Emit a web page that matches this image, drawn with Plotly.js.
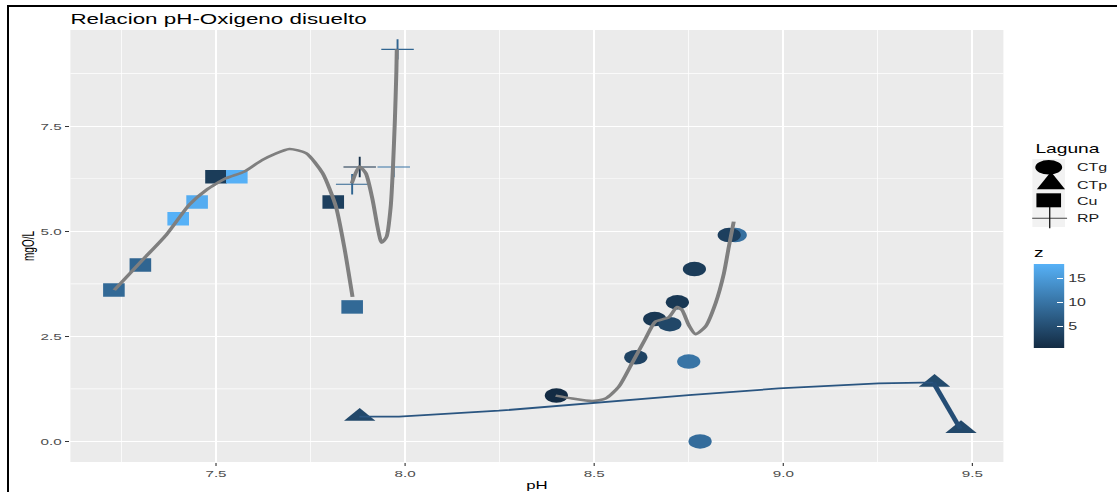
<!DOCTYPE html>
<html>
<head>
<meta charset="utf-8">
<script src="https://cdn.plot.ly/plotly-3.0.1.min.js"></script>
<style>
  html, body { margin: 0; padding: 0; background: #fff; overflow: hidden; }
  #wrap { position: relative; width: 1117px; height: 492px; overflow: hidden; }
  /* the chart is laid out narrow and widened, giving the broad lettering and oval marks */
  #chart { position: absolute; left: 0; top: 0; width: 698px; height: 492px;
           transform-origin: 0 0; transform: scaleX(1.600287); }
  #frame { position: absolute; left: 6.5px; top: 4.5px; right: -10px; bottom: -10px;
           border-left: 2.6px solid #000; border-top: 2.2px solid #000; pointer-events: none; }
</style>
</head>
<body>
<div id="wrap"><div id="chart"></div><div id="frame"></div></div>
<script>
// ---- measured points per laguna (pH, dissolved oxygen mg/L, z) ----
const cuPH  = [7.23, 7.30, 7.40, 7.45, 7.50, 7.555, 7.81, 7.86];
const cuO2  = [3.6, 4.2, 5.3, 5.7, 6.3, 6.3, 5.7, 3.2];
const cuZ   = [8.5, 8, 18.1, 17.5, 2.5, 18, 3, 8.5];

const ctgPH = [8.40, 8.61, 8.66, 8.70, 8.72, 8.765, 8.75, 8.78, 8.873, 8.857];
const ctgO2 = [1.09, 2.0, 2.91, 2.79, 3.31, 4.10, 1.90, 0.0, 4.91, 4.91];
const ctgZ  = [0.3, 3.5, 2, 4, 2, 2.5, 10, 9, 9.5, 3];

const ctpPH = [7.88, 9.40, 9.47];
const ctpO2 = [0.59, 1.40, 0.30];
const ctpZ  = [4.2, 4.5, 4.2];

const rpPH  = [7.86, 7.88, 7.97, 7.98];
const rpO2  = [6.12, 6.53, 6.53, 9.33];
const rpZ   = [8, 1, 10, 8];

// ---- smoothed trend per laguna ----
const cuFitPH  = [7.231, 7.306, 7.368, 7.429, 7.474, 7.526, 7.575, 7.623, 7.694, 7.738, 7.782, 7.817, 7.839, 7.861];
const cuFitO2  = [3.60, 4.32, 4.91, 5.63, 5.98, 6.26, 6.42, 6.70, 6.96, 6.86, 6.38, 5.59, 4.63, 3.44];
const rpFitPH  = [7.859, 7.879, 7.896, 7.914, 7.927, 7.938, 7.951, 7.962, 7.968, 7.973, 7.977, 7.978];
const rpFitO2  = [6.14, 6.54, 6.38, 5.75, 5.11, 4.73, 4.87, 5.59, 6.54, 7.65, 8.84, 9.33];
const ctgFitPH = [8.398, 8.442, 8.495, 8.530, 8.565, 8.600, 8.636, 8.662, 8.697, 8.719, 8.732, 8.750, 8.768, 8.794, 8.821, 8.843, 8.856, 8.869];
const ctgFitO2 = [1.09, 1.02, 0.96, 1.02, 1.30, 1.86, 2.45, 2.85, 2.95, 3.20, 3.13, 2.77, 2.55, 2.73, 3.29, 4.00, 4.63, 5.23];
const ctpFitPH = [7.879, 7.984, 8.248, 8.504, 8.750, 8.988, 9.252, 9.366, 9.397, 9.468];
const ctpFitO2 = [0.59, 0.59, 0.73, 0.92, 1.10, 1.26, 1.38, 1.40, 1.40, 0.30];

// ---- labels ----
const lagunas = ['CTg', 'CTp', 'Cu', 'RP'];
const xTicks = [7.5, 8.0, 8.5, 9.0, 9.5];
const yTicks = [0, 2.5, 5, 7.5];
const zTicks = [5, 10, 15];

// ---- geometry of the final (widened) picture ----
const W = 1117, H = 492, W0 = 698, S = W / W0;
const PL = 71, PR = 1003, PT = 30, PB = 462;
const fx = px => (px - PL) / (PR - PL);
const fy = py => (PB - py) / (PB - PT);

const allZ = cuZ.concat(ctgZ, ctpZ, rpZ);
const FONT = 'Liberation Sans, Arial, Helvetica, sans-serif';
const GREY_FIT = '#7f7f7f';

function pts(x, y, z, symbol, size, extra) {
  const m = Object.assign({ symbol: symbol, size: size, color: z, coloraxis: 'coloraxis', line: { width: 0 } }, extra || {});
  return { type: 'scatter', mode: 'markers', x: x, y: y, marker: m, hoverinfo: 'skip', showlegend: false };
}
function fit(x, y, color, width, shape) {
  return { type: 'scatter', mode: 'lines', x: x, y: y, hoverinfo: 'skip', showlegend: false,
           line: { color: color, width: width, shape: shape || 'spline', smoothing: 0.6 } };
}

const traces = [
  pts(cuPH, cuO2, cuZ, 'square', 13.5),
  pts(ctgPH, ctgO2, ctgZ, 'circle', 14.5),
  pts(ctpPH, ctpO2, ctpZ, 'triangle-up', 17),
  pts(rpPH, rpO2, rpZ, 'cross-thin-open', 14.5, { line: { width: 1.2 } }),
  fit(cuFitPH, cuFitO2, GREY_FIT, 2.5),
  fit(rpFitPH, rpFitO2, GREY_FIT, 2.5),
  fit(ctgFitPH, ctgFitO2, GREY_FIT, 2.5),
  fit(ctpFitPH.slice(0, -1), ctpFitO2.slice(0, -1), '#2a5580', 1.8, 'linear'),
  fit(ctpFitPH.slice(-2), ctpFitO2.slice(-2), '#244d75', 3.2, 'linear')
];

// ---- legend for the laguna shapes ----
const keyX = 1048.3;
const keyRowY = [167.3, 185, 201.7, 218.3];
const black = '#000';
const pix = { xref: 'paper', yref: 'paper', xsizemode: 'pixel', ysizemode: 'pixel', layer: 'above', line: { width: 0 } };
const shapes = [
  { type: 'rect', xref: 'paper', yref: 'paper', x0: fx(1032), x1: fx(1064.5), y0: fy(227), y1: fy(159),
    fillcolor: '#f2f2f2', line: { width: 0 }, layer: 'above' },
  Object.assign({}, pix, { type: 'circle', xanchor: fx(keyX), yanchor: fy(keyRowY[0]),
    x0: -8.4, x1: 8.4, y0: -7.2, y1: 7.2, fillcolor: black }),
  Object.assign({}, pix, { type: 'path', xanchor: fx(1050.5), yanchor: fy(180.5),
    path: 'M-8.8,-8.8L8.8,-8.8L0,8.8Z', fillcolor: black }),
  Object.assign({}, pix, { type: 'rect', xanchor: fx(keyX), yanchor: fy(200.3),
    x0: -7.7, x1: 7.7, y0: -7, y1: 7, fillcolor: black }),
  { type: 'line', xref: 'paper', yref: 'paper', xsizemode: 'pixel', xanchor: fx(1049.2),
    x0: -10.9, x1: 10.9, y0: fy(keyRowY[3]), y1: fy(keyRowY[3]), line: { color: '#444', width: 1 }, layer: 'above' },
  { type: 'line', xref: 'paper', yref: 'paper', ysizemode: 'pixel', yanchor: fy(217.6),
    x0: fx(1049.3), x1: fx(1049.3), y0: -10.7, y1: 10.7, line: { color: '#111', width: 0.8 }, layer: 'above' }
];

const annotations = [
  { text: 'Laguna', xref: 'paper', yref: 'paper', x: fx(1032), y: fy(149.3), xanchor: 'left', yanchor: 'middle',
    showarrow: false, font: { family: FONT, size: 12, color: '#000' } }
].concat(lagunas.map((name, i) => ({
  text: name, xref: 'paper', yref: 'paper', x: fx(1073), y: fy(keyRowY[i]), xanchor: 'left', yanchor: 'middle',
  showarrow: false, font: { family: FONT, size: 10, color: '#1a1a1a' }
})));

const layout = {
  width: W0, height: H,
  margin: { l: PL / S, r: W0 - PR / S, t: PT, b: H - PB, autoexpand: false },
  paper_bgcolor: '#ffffff',
  plot_bgcolor: '#ebebeb',
  font: { family: FONT, color: '#4d4d4d' },
  showlegend: false,
  title: {
    text: 'Relacion pH-Oxigeno disuelto',
    font: { family: FONT, size: 14, color: '#000' },
    xref: 'paper', x: 0, xanchor: 'left',
    yref: 'container', y: 1 - 19.5 / H, yanchor: 'middle'
  },
  xaxis: {
    range: [7.115, 9.582], tickmode: 'array', tickvals: xTicks, tickformat: '.1f',
    ticks: 'outside', ticklen: 3, tickwidth: 0.7, tickcolor: '#333',
    tickfont: { family: FONT, size: 9.5, color: '#4d4d4d' },
    showgrid: true, gridcolor: '#ffffff', gridwidth: 1.2,
    minor: { tickmode: 'linear', tick0: 0, dtick: 0.25, showgrid: true, gridcolor: '#ffffff', gridwidth: 0.6 },
    zeroline: false, showline: false, automargin: false,
    title: { text: 'pH', font: { family: FONT, size: 10.5, color: '#000' }, standoff: 3 }
  },
  yaxis: {
    range: [-0.49, 9.79], tickmode: 'array', tickvals: yTicks, tickformat: '.1f',
    ticks: 'outside', ticklen: 2.6, tickwidth: 1, tickcolor: '#333',
    tickfont: { family: FONT, size: 9.5, color: '#4d4d4d' },
    showgrid: true, gridcolor: '#ffffff', gridwidth: 1.3,
    minor: { tickmode: 'linear', tick0: 0, dtick: 1.25, showgrid: true, gridcolor: '#ffffff', gridwidth: 0.7 },
    zeroline: false, showline: false, automargin: false,
    title: { text: 'mgO/L', font: { family: FONT, size: 10, color: '#000' }, standoff: 1 }
  },
  coloraxis: {
    colorscale: [[0, '#132B43'], [1, '#56B1F7']],
    cmin: Math.min.apply(null, allZ), cmax: Math.max.apply(null, allZ),
    colorbar: {
      x: fx(1033.7), xanchor: 'left', y: fy(296.8), yanchor: 'middle',
      len: 103, lenmode: 'pixels', thickness: 31 / S, thicknessmode: 'pixels',
      outlinewidth: 0, xpad: 0, ypad: 0,
      tickmode: 'array', tickvals: zTicks, ticks: 'inside', ticklen: 4, tickwidth: 1, tickcolor: '#ffffff',
      tickfont: { family: FONT, size: 10, color: '#333' },
      title: { text: 'z', side: 'top', font: { family: FONT, size: 12, color: '#000' } }
    }
  },
  shapes: shapes,
  annotations: annotations
};

Plotly.newPlot('chart', traces, layout, { staticPlot: true, displayModeBar: false });
</script>
</body>
</html>
